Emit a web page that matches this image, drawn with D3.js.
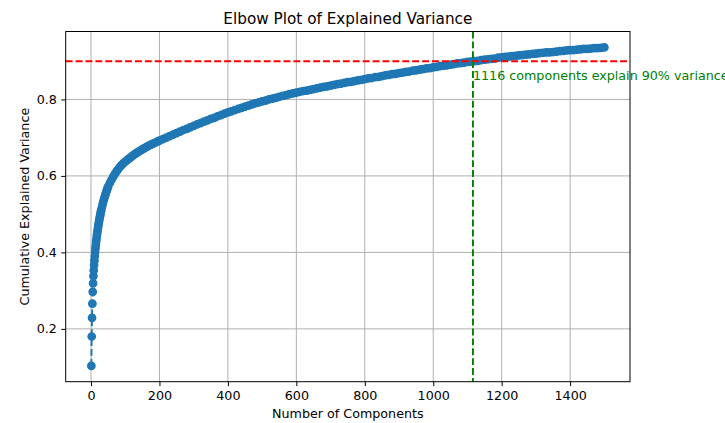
<!DOCTYPE html>
<html lang="en">
<head>
<meta charset="UTF-8" />
<title>Elbow Plot</title>
<style>
  body { margin: 0; background: #fff; }
  svg { display: block; font-family: "DejaVu Sans", sans-serif; }
</style>
</head>
<body>
<svg id="chart" width="725" height="423"></svg>
<script src="https://d3js.org/d3.v7.min.js"></script>
<script>
const components = [
  1, 2, 3, 4, 5, 6, 7, 8, 9, 10, 11, 12, 13, 14, 15, 16, 17, 18, 19, 20,
  21, 22, 23, 24, 25, 26, 27, 28, 29, 30,
  32, 34, 36, 38, 40, 42, 44, 46, 48, 50,
  55, 60, 65, 70, 75, 80, 85, 90, 95, 100, 105, 110, 115, 120, 125, 130,
  135, 140, 145, 150, 155, 160, 165, 170, 175, 180, 185, 190, 195,
  200, 210, 220, 230, 240, 250, 260, 270, 280, 290, 300, 310, 320, 330, 340,
  350, 360, 370, 380, 390, 400, 410, 420, 430, 440, 450, 460, 470, 480, 490,
  500, 510, 520, 530, 540, 550, 560, 570, 580, 590, 600, 610, 620, 630, 640,
  650, 660, 670, 680, 690, 700, 710, 720, 730, 740, 750, 760, 770, 780, 790,
  800, 810, 820, 830, 840, 850, 860, 870, 880, 890, 900, 910, 920, 930, 940,
  950, 960, 970, 980, 990, 1000, 1010, 1020, 1030, 1040, 1050, 1060, 1070,
  1080, 1090, 1100, 1110, 1120, 1130, 1140, 1150, 1160, 1170, 1180, 1190,
  1200, 1210, 1220, 1230, 1240, 1250, 1260, 1270, 1280, 1290, 1300, 1310,
  1320, 1330, 1340, 1350, 1360, 1370, 1380, 1390, 1400, 1410, 1420, 1430,
  1440, 1450, 1460, 1470, 1480, 1490, 1500
];

// cumulative explained variance at those components
const cumVariance = [
  0.1035, 0.180, 0.229, 0.266, 0.297, 0.319, 0.338, 0.353, 0.367, 0.379,
  0.390, 0.401, 0.4105, 0.419, 0.428, 0.435, 0.443, 0.4495, 0.456, 0.462,
  0.468, 0.4735, 0.479, 0.484, 0.489, 0.4935, 0.498, 0.5025, 0.507, 0.511,
  0.5185, 0.526, 0.533, 0.539, 0.5455, 0.551, 0.557, 0.562, 0.567, 0.572,
  0.5815, 0.590, 0.598, 0.6055, 0.6125, 0.6185, 0.624, 0.629, 0.6335, 0.637,
  0.641, 0.6445, 0.648, 0.6515, 0.655, 0.658, 0.661, 0.664, 0.6665, 0.6695,
  0.672, 0.6745, 0.677, 0.6795, 0.6815, 0.684, 0.686, 0.688, 0.6905,
  0.6925, 0.696, 0.700, 0.704, 0.708, 0.712, 0.716, 0.720, 0.723, 0.727,
  0.731, 0.735, 0.738, 0.742, 0.745, 0.749, 0.752, 0.756, 0.759, 0.763,
  0.766, 0.769, 0.772, 0.775, 0.778, 0.781, 0.784, 0.787, 0.790, 0.792,
  0.795, 0.797, 0.800, 0.802, 0.804, 0.807, 0.809, 0.811, 0.814, 0.816,
  0.818, 0.820, 0.822, 0.823, 0.825, 0.827, 0.829, 0.831, 0.833, 0.834,
  0.836, 0.838, 0.840, 0.841, 0.843, 0.845, 0.846, 0.848, 0.850, 0.851,
  0.853, 0.855, 0.856, 0.858, 0.859, 0.861, 0.863, 0.864, 0.866, 0.867,
  0.869, 0.870, 0.872, 0.873, 0.875, 0.876, 0.878, 0.879, 0.881, 0.882,
  0.884, 0.885, 0.887, 0.888, 0.889, 0.891, 0.892, 0.894, 0.895, 0.896,
  0.898, 0.899, 0.900, 0.901, 0.903, 0.904, 0.905, 0.906, 0.907, 0.909,
  0.910, 0.911, 0.912, 0.913, 0.914, 0.915, 0.916, 0.917, 0.918, 0.919,
  0.920, 0.921, 0.922, 0.923, 0.923, 0.924, 0.925, 0.926, 0.927, 0.928,
  0.929, 0.929, 0.930, 0.931, 0.932, 0.932, 0.933, 0.934, 0.934, 0.935,
  0.936
];

const xTicks = [0, 200, 400, 600, 800, 1000, 1200, 1400];
const yTicks = [0.2, 0.4, 0.6, 0.8];

const threshold = 0.9;
const nComponents90 = 1116;
const annotationY = 0.85;

const width = 725, height = 423;
const margin = { top: 31.5, right: 95, bottom: 41.3, left: 65.7 };
const plotW = width - margin.left - margin.right;
const plotH = height - margin.top - margin.bottom;

const data = components.map((c, i) => ({ n: c, v: cumVariance[i] }));

// matplotlib style 5% margins around the data
const xExt = d3.extent(components), yExt = d3.extent(cumVariance);
const xPad = (xExt[1] - xExt[0]) * 0.05, yPad = (yExt[1] - yExt[0]) * 0.05;

const x = d3.scaleLinear()
  .domain([xExt[0] - xPad, xExt[1] + xPad])
  .range([0, plotW]);
const y = d3.scaleLinear()
  .domain([yExt[0] - yPad, yExt[1] + yPad])
  .range([plotH, 0]);

const svg = d3.select('#chart');
const g = svg.append('g').attr('transform', `translate(${margin.left},${margin.top})`);

// grid
g.append('g').selectAll('line')
  .data(xTicks).join('line')
  .attr('x1', d => x(d)).attr('x2', d => x(d))
  .attr('y1', 0).attr('y2', plotH)
  .attr('stroke', '#b0b0b0').attr('stroke-width', 1);
g.append('g').selectAll('line')
  .data(yTicks).join('line')
  .attr('x1', 0).attr('x2', plotW)
  .attr('y1', d => y(d)).attr('y2', d => y(d))
  .attr('stroke', '#b0b0b0').attr('stroke-width', 1);

// dashed line + circle markers
const line = d3.line().x(d => x(d.n)).y(d => y(d.v));
g.append('path')
  .datum(data)
  .attr('d', line)
  .attr('fill', 'none')
  .attr('stroke', '#1f77b4')
  .attr('stroke-width', 1.9)
  .attr('stroke-dasharray', '6.9 3');

g.append('g').selectAll('circle')
  .data(data).join('circle')
  .attr('cx', d => x(d.n))
  .attr('cy', d => y(d.v))
  .attr('r', 3.75)
  .attr('fill', '#1f77b4')
  .attr('stroke', '#1f77b4')
  .attr('stroke-width', 1.25);

// 90% threshold lines
g.append('line')
  .attr('x1', 0).attr('x2', plotW)
  .attr('y1', y(threshold)).attr('y2', y(threshold))
  .attr('stroke', '#ff0000').attr('stroke-width', 1.9)
  .attr('stroke-dasharray', '6.9 3');
g.append('line')
  .attr('x1', x(nComponents90)).attr('x2', x(nComponents90))
  .attr('y1', 0).attr('y2', plotH)
  .attr('stroke', '#008000').attr('stroke-width', 1.9)
  .attr('stroke-dasharray', '6.9 3');

// frame
g.append('rect')
  .attr('width', plotW).attr('height', plotH)
  .attr('fill', 'none').attr('stroke', '#000').attr('stroke-width', 1);

// axes
const xAxis = g.append('g')
  .attr('transform', `translate(0,${plotH})`)
  .call(d3.axisBottom(x).tickValues(xTicks).tickFormat(d3.format('d')).tickSize(4.4).tickPadding(4.4));
const yAxis = g.append('g')
  .call(d3.axisLeft(y).tickValues(yTicks).tickFormat(d3.format('.1f')).tickSize(4.4).tickPadding(4.4));
[xAxis, yAxis].forEach(a => {
  a.select('.domain').remove();
  a.selectAll('.tick line').attr('stroke', '#000').attr('stroke-width', 1);
  a.selectAll('.tick text')
    .attr('fill', '#000')
    .style('font-family', '"DejaVu Sans", sans-serif')
    .style('font-size', '12.7px');
});

// annotation
g.append('text')
  .attr('x', x(nComponents90))
  .attr('y', y(annotationY))
  .attr('fill', '#008000')
  .style('font-size', '12.7px')
  .text(`${nComponents90} components explain 90% variance`);

// title and axis labels
svg.append('text')
  .attr('x', margin.left + plotW / 2)
  .attr('y', 24)
  .attr('text-anchor', 'middle')
  .style('font-size', '15.25px')
  .text('Elbow Plot of Explained Variance');

svg.append('text')
  .attr('x', margin.left + plotW / 2)
  .attr('y', 418)
  .attr('text-anchor', 'middle')
  .style('font-size', '12.7px')
  .text('Number of Components');

svg.append('text')
  .attr('transform', `translate(29,${margin.top + plotH / 2}) rotate(-90)`)
  .attr('text-anchor', 'middle')
  .style('font-size', '12.7px')
  .text('Cumulative Explained Variance');
</script>
</body>
</html>
